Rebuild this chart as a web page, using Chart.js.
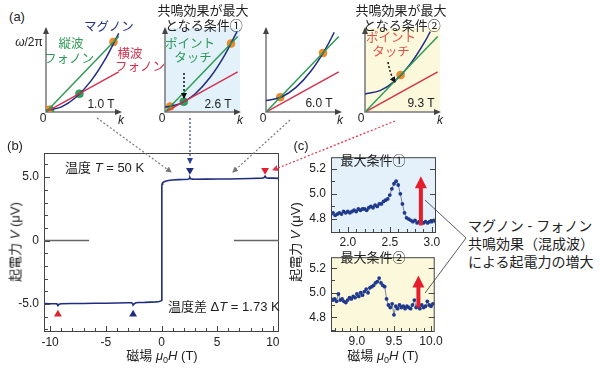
<!DOCTYPE html>
<html>
<head>
<meta charset="utf-8">
<script src="https://cdn.jsdelivr.net/npm/chart.js@4.4.0/dist/chart.umd.min.js"></script>
<style>
  body { margin: 0; width: 600px; height: 370px; background: #fff; position: relative; overflow: hidden;
         font-family: "Liberation Sans", "Noto Sans CJK JP", sans-serif; color: #222; }
  canvas { position: absolute; }
  .t { position: absolute; white-space: nowrap; line-height: 1; transform: translate(-50%, -50%); }
  .l { position: absolute; white-space: nowrap; line-height: 1; transform: translate(0, -50%); }
  svg { position: absolute; left: 0; top: 0; pointer-events: none; }
</style>
</head>
<body>
<canvas id="a0" width="100" height="100" style="left:26px;top:20px"></canvas>
<canvas id="a1" width="100" height="100" style="left:145px;top:20px"></canvas>
<canvas id="a2" width="100" height="100" style="left:246px;top:20px"></canvas>
<canvas id="a3" width="100" height="100" style="left:345px;top:20px"></canvas>
<canvas id="mainB" width="290" height="240" style="left:0;top:130px"></canvas>
<canvas id="zoom1" width="155" height="104" style="left:290px;top:145px"></canvas>
<canvas id="zoom2" width="155" height="125" style="left:290px;top:245px"></canvas>

<!-- panel (a) text -->
<div class="t" style="left:17px;top:16px;font-size:13px">(a)</div>
<div class="t" style="left:29px;top:42px;font-size:12px"><i>ω</i>/2π</div>
<div class="t" style="left:109px;top:27px;font-size:12.5px;color:#24338a">マグノン</div>
<div class="t" style="left:71px;top:44px;font-size:12.5px;color:#2f9a55">縦波</div>
<div class="t" style="left:69px;top:59px;font-size:12.5px;color:#2f9a55">フォノン</div>
<div class="t" style="left:130px;top:54px;font-size:12.5px;color:#d2304c">横波</div>
<div class="t" style="left:140px;top:67px;font-size:12.5px;color:#d2304c">フォノン</div>
<div class="t" style="left:203px;top:10px;font-size:13px">共鳴効果が最大</div>
<div class="t" style="left:204px;top:25px;font-size:13px">となる条件①</div>
<div class="t" style="left:190px;top:44px;font-size:12.5px;color:#2f9a55">ポイント</div>
<div class="t" style="left:193px;top:58px;font-size:12.5px;color:#2f9a55">タッチ</div>
<div class="t" style="left:401px;top:10px;font-size:13px">共鳴効果が最大</div>
<div class="t" style="left:402px;top:25px;font-size:13px">となる条件②</div>
<div class="t" style="left:391px;top:38px;font-size:12.5px;color:#e0504a">ポイント</div>
<div class="t" style="left:391px;top:52px;font-size:12.5px;color:#e0504a">タッチ</div>
<div class="t" style="left:101px;top:104px;font-size:12px">1.0 T</div>
<div class="t" style="left:218px;top:104px;font-size:12px">2.6 T</div>
<div class="t" style="left:319px;top:103px;font-size:12px">6.0 T</div>
<div class="t" style="left:421px;top:103px;font-size:12px">9.3 T</div>
<div class="t" style="left:43px;top:118px;font-size:12px">0</div>
<div class="t" style="left:162px;top:118px;font-size:12px">0</div>
<div class="t" style="left:263px;top:118px;font-size:12px">0</div>
<div class="t" style="left:361px;top:118px;font-size:12px">0</div>
<div class="t" style="left:121px;top:120px;font-size:12px"><i>k</i></div>
<div class="t" style="left:240px;top:120px;font-size:12px"><i>k</i></div>
<div class="t" style="left:340px;top:120px;font-size:12px"><i>k</i></div>
<div class="t" style="left:440px;top:120px;font-size:12px"><i>k</i></div>

<!-- panel (b) text -->
<div class="t" style="left:15px;top:145px;font-size:13px">(b)</div>
<div class="l" style="left:65px;top:167px;font-size:13px">温度 <i>T</i> = 50 K</div>
<div class="l" style="left:168px;top:306px;font-size:13px">温度差 Δ<i>T</i> = 1.73 K</div>
<div class="t" style="left:15px;top:242px;font-size:13px;transform:translate(-50%,-50%) rotate(-90deg)">起電力 <i>V</i> (μV)</div>
<div class="t" style="left:162px;top:357px;font-size:13px">磁場 <i>μ</i><sub style="font-size:9px">0</sub><i>H</i> (T)</div>

<!-- panel (c) text -->
<div class="t" style="left:301px;top:145px;font-size:13px">(c)</div>
<div class="t" style="left:373px;top:160px;font-size:13px">最大条件①</div>
<div class="t" style="left:373px;top:257px;font-size:13px">最大条件②</div>
<div class="t" style="left:295px;top:242px;font-size:13px;transform:translate(-50%,-50%) rotate(-90deg)">起電力 <i>V</i> (μV)</div>
<div class="t" style="left:383px;top:357px;font-size:13px">磁場 <i>μ</i><sub style="font-size:9px">0</sub><i>H</i> (T)</div>
<div class="l" style="left:468px;top:226px;font-size:14px">マグノン - フォノン</div>
<div class="l" style="left:468px;top:244px;font-size:14px">共鳴効果（混成波）</div>
<div class="l" style="left:468px;top:262px;font-size:14px">による起電力の増大</div>

<svg width="600" height="370">
  <defs>
    <marker id="hg" markerWidth="6" markerHeight="6" refX="5" refY="3" orient="auto" markerUnits="userSpaceOnUse">
      <path d="M0,0 L6,3 L0,6 z" fill="#777"/></marker>
    <marker id="hb" markerWidth="6" markerHeight="6" refX="5" refY="3" orient="auto" markerUnits="userSpaceOnUse">
      <path d="M0,0 L6,3 L0,6 z" fill="#2a3f9a"/></marker>
    <marker id="hr" markerWidth="6" markerHeight="6" refX="5" refY="3" orient="auto" markerUnits="userSpaceOnUse">
      <path d="M0,0 L6,3 L0,6 z" fill="#e03048"/></marker>
    <marker id="hk" markerWidth="6" markerHeight="6" refX="5" refY="3" orient="auto" markerUnits="userSpaceOnUse">
      <path d="M0,0 L6,3 L0,6 z" fill="#111"/></marker>
  </defs>
  <g fill="none" stroke-width="1.2" stroke-dasharray="2,2">
    <line x1="97" y1="118" x2="171" y2="172" stroke="#777" marker-end="url(#hg)"/>
    <line x1="190" y1="118" x2="190" y2="163" stroke="#2a3f9a" marker-end="url(#hb)"/>
    <line x1="290" y1="120" x2="233" y2="172" stroke="#777" marker-end="url(#hg)"/>
    <line x1="395" y1="121" x2="273" y2="170" stroke="#e03048" marker-end="url(#hr)"/>
    <line x1="184" y1="73" x2="184" y2="98" stroke="#111" stroke-width="1.5" marker-end="url(#hk)"/>
    <path d="M388,62 Q390,74 395,82" stroke="#111" stroke-width="1.5" marker-end="url(#hk)"/>
  </g>
  <polyline points="425,200 466,238 425,293" fill="none" stroke="#333" stroke-width="0.8"/>
</svg>

<script>
// ---- (a) dispersion sketches: k and omega/2pi in arbitrary units ----
const phononK = [0, 0.97];
const longW = [0, 0.92];
const transW = [0, 0.49];
const magnonK = [
  [0, 0.2, 0.4, 0.6, 0.8, 0.97],
  [0, 0.2, 0.4, 0.6, 0.8, 0.96],
  [0, 0.2, 0.4, 0.6, 0.8, 0.91],
  [0, 0.2, 0.4, 0.6, 0.8, 0.87],
];
const magnonW = [
  [0.02, 0.06, 0.18, 0.38, 0.66, 0.96],
  [0.06, 0.10, 0.22, 0.42, 0.70, 0.98],
  [0.14, 0.18, 0.30, 0.50, 0.78, 0.97],
  [0.22, 0.26, 0.38, 0.58, 0.86, 0.98],
];
const crossLK = [[0.025, 0.90], [0.07, 0.88], [0.19, 0.76], [0.475]];
const crossLW = [[0.024, 0.855], [0.067, 0.835], [0.18, 0.72], [0.45]];
const crossTK = [[0.054, 0.446], [0.25], [], []];
const crossTW = [[0.027, 0.223], [0.125], [], []];

// ---- (b) full field sweep ----
const fieldB = [-10.5, -10.0, -9.6, -9.4, -9.3, -9.2, -9.0, -8.0, -7.0, -6.0, -5.0, -4.0, -3.0, -2.7, -2.6,
  -2.55, -2.45, -2.3, -2.0, -1.5, -1.0, -0.5, -0.2, -0.05, 0.02, 0.03, 0.05, 0.1, 0.2, 0.35, 0.6, 1.0, 1.5,
  2.0, 2.4, 2.5, 2.55, 2.62, 2.75, 3.0, 4.0, 5.0, 6.0, 7.0, 8.0, 9.0, 9.2, 9.3, 9.4, 9.6, 10.0, 10.5];
const voltB = [-4.96, -4.98, -4.97, -4.98, -5.12, -5.02, -4.97, -4.95, -4.95, -4.93, -4.93, -4.92, -4.9, -4.9, -4.95,
  -5.08, -4.98, -4.9, -4.88, -4.87, -4.85, -4.83, -4.8, -4.75, -4.7, 4.3, 4.45, 4.55, 4.62, 4.68, 4.73, 4.77, 4.8,
  4.81, 4.83, 4.9, 4.98, 4.87, 4.84, 4.83, 4.84, 4.85, 4.85, 4.87, 4.89, 4.92, 4.95, 5.08, 4.95, 4.92, 4.92, 4.9];
const markH = [2.55, 9.3, -9.3, -2.55];
const markV = [5.55, 5.55, -5.8, -5.8];
const ticksBX = [-10, -5, 0, 5, 10];
const ticksBY = [-5, 0, 5];

// ---- (c) zoomed sweeps around the two resonance conditions ----
const field1 = [1.800, 1.825, 1.850, 1.875, 1.900, 1.925, 1.950, 1.975, 2.000, 2.025, 2.050, 2.075, 2.100, 2.125,
  2.150, 2.175, 2.200, 2.225, 2.250, 2.275, 2.300, 2.325, 2.350, 2.375, 2.400, 2.425, 2.450, 2.475, 2.500, 2.525,
  2.550, 2.575, 2.600, 2.625, 2.650, 2.675, 2.700, 2.725, 2.750, 2.775, 2.800, 2.825, 2.850, 2.875, 2.900, 2.925,
  2.950, 2.975, 3.000, 3.025, 3.050];
const volt1 = [4.84, 4.85, 4.83, 4.84, 4.85, 4.84, 4.86, 4.85, 4.86, 4.85, 4.86, 4.87, 4.86, 4.88,
  4.87, 4.88, 4.88, 4.87, 4.89, 4.90, 4.89, 4.91, 4.90, 4.92, 4.92, 4.94, 4.95, 4.96, 4.99, 5.04,
  5.08, 5.10, 5.07, 5.00, 4.92, 4.85, 4.81, 4.80, 4.79, 4.78, 4.79, 4.77, 4.78, 4.78, 4.77, 4.78,
  4.77, 4.78, 4.78, 4.79, 4.78];
const field2 = [8.650, 8.675, 8.700, 8.725, 8.750, 8.775, 8.800, 8.825, 8.850, 8.875, 8.900, 8.925, 8.950, 8.975,
  9.000, 9.025, 9.050, 9.075, 9.100, 9.125, 9.150, 9.175, 9.200, 9.225, 9.250, 9.275, 9.300, 9.325, 9.350, 9.375,
  9.400, 9.425, 9.450, 9.475, 9.500, 9.525, 9.550, 9.575, 9.600, 9.625, 9.650, 9.675, 9.700, 9.725, 9.750, 9.775,
  9.800, 9.825, 9.850, 9.875, 9.900, 9.925, 9.950, 9.975, 10.000, 10.025];
const volt2 = [4.95, 4.94, 4.95, 4.93, 4.99, 4.94, 4.95, 4.93, 4.92, 4.94, 4.96, 4.95, 4.97, 4.96,
  4.99, 4.97, 5.00, 4.98, 5.01, 5.03, 5.00, 5.04, 5.05, 5.06, 5.08, 5.09, 5.12, 5.08, 5.06, 5.05,
  4.95, 4.90, 4.88, 4.91, 4.82, 4.89, 4.87, 4.90, 4.88, 4.89, 4.87, 4.89, 4.88, 4.87, 4.90, 4.94,
  4.88, 4.89, 4.87, 4.90, 4.88, 4.89, 4.93, 4.90, 4.89, 4.91];
const peak1 = {h: 2.58, v: 5.15};
const peak2 = {h: 9.29, v: 5.18};
const rise1 = {h: 2.87, from: 4.75, to: 5.14};
const rise2 = {h: 9.83, from: 4.88, to: 5.14};
const ticksC1X = [2.0, 2.5, 3.0];
const ticksC2X = [9.0, 9.5, 10.0];
const ticksCY = [4.8, 5.0, 5.2];

const NAVY = "#1f2d80";
const GREEN = "#2f9a55";
const RED = "#d2304c";
const ORANGE = "#f08a2a";

Chart.defaults.font.family = '"Liberation Sans", Arial, sans-serif';
Chart.defaults.font.size = 12;
Chart.defaults.color = "#222";

const xy = (xs, ys) => xs.map((x, i) => ({x: x, y: ys[i]}));

// axes with arrow heads for the sketches
const arrowAxes = {
  id: "arrowAxes",
  beforeDatasetsDraw(chart, args, opts) {
    const {ctx, chartArea: a} = chart;
    ctx.save();
    if (opts.bg) {
      ctx.fillStyle = opts.bg;
      ctx.fillRect(a.left, a.top - 2, a.right - a.left, a.bottom - a.top + 2);
    }
    ctx.strokeStyle = "#777";
    ctx.lineWidth = 1.5;
    ctx.beginPath();
    ctx.moveTo(a.left, a.top);
    ctx.lineTo(a.left, a.bottom);
    ctx.lineTo(a.right - 2, a.bottom);
    ctx.stroke();
    ctx.fillStyle = "#444";
    ctx.beginPath();
    ctx.moveTo(a.left, a.top - 3);
    ctx.lineTo(a.left - 3, a.top + 4);
    ctx.lineTo(a.left + 3, a.top + 4);
    ctx.fill();
    ctx.beginPath();
    ctx.moveTo(a.right + 1, a.bottom);
    ctx.lineTo(a.right - 6, a.bottom - 3);
    ctx.lineTo(a.right - 6, a.bottom + 3);
    ctx.fill();
    ctx.restore();
  }
};

// frame, inner ticks, background and red arrows for the data panels
const frameTicks = {
  id: "frameTicks",
  beforeDatasetsDraw(chart, args, o) {
    const {ctx, chartArea: a} = chart;
    if (o.bg) {
      ctx.save();
      ctx.fillStyle = o.bg;
      ctx.fillRect(a.left, a.top, a.right - a.left, a.bottom - a.top);
      ctx.restore();
    }
  },
  afterDatasetsDraw(chart, args, o) {
    const {ctx, chartArea: a, scales: {x, y}} = chart;
    ctx.save();
    ctx.strokeStyle = "#444";
    ctx.lineWidth = 1;
    ctx.beginPath();
    const steps = (s, step) => {
      const out = [];
      for (let n = Math.ceil(s.min / step - 1e-6); n * step <= s.max + 1e-9; n++) out.push(n * step);
      return out;
    };
    const isMajor = (v, m) => Math.abs(v / m - Math.round(v / m)) < 1e-6;
    steps(x, o.xStep).forEach(v => {
      const px = Math.round(x.getPixelForValue(v)) + 0.5;
      const len = isMajor(v, o.xMajor) ? 6 : 4;
      ctx.moveTo(px, a.bottom); ctx.lineTo(px, a.bottom - len);
    });
    steps(y, o.yStep).forEach(v => {
      const py = Math.round(y.getPixelForValue(v)) + 0.5;
      const len = isMajor(v, o.yMajor) ? 6 : 4;
      ctx.moveTo(a.left, py); ctx.lineTo(a.left + len, py);
      if (o.right && isMajor(v, o.yMajor)) { ctx.moveTo(a.right, py); ctx.lineTo(a.right - len, py); }
    });
    ctx.stroke();
    ctx.strokeRect(a.left + 0.5, a.top + 0.5, a.right - a.left - 1, a.bottom - a.top - 1);
    if (o.zeroGap) {
      const py = y.getPixelForValue(0);
      ctx.strokeStyle = "#666";
      ctx.lineWidth = 1.5;
      ctx.beginPath();
      ctx.moveTo(a.left, py); ctx.lineTo(x.getPixelForValue(-o.zeroGap), py);
      ctx.moveTo(x.getPixelForValue(o.zeroGap), py); ctx.lineTo(a.right, py);
      ctx.stroke();
    }
    if (o.rise) {
      const px = x.getPixelForValue(o.rise.h);
      const p0 = y.getPixelForValue(o.rise.from);
      const p1 = y.getPixelForValue(o.rise.to);
      ctx.fillStyle = "#e41e2a";
      ctx.fillRect(px - 2, p1 + 10, 4, p0 - p1 - 10);
      ctx.beginPath();
      ctx.moveTo(px, p1); ctx.lineTo(px - 6, p1 + 12); ctx.lineTo(px + 6, p1 + 12);
      ctx.fill();
    }
    ctx.restore();
  }
};

function sketch(i, bg) {
  return new Chart(document.getElementById("a" + i), {
    type: "scatter",
    data: {
      datasets: [
        {data: xy(phononK, longW), showLine: true, borderColor: GREEN, borderWidth: 1.5, pointRadius: 0},
        {data: xy(phononK, transW), showLine: true, borderColor: RED, borderWidth: 1.5, pointRadius: 0},
        {data: xy(magnonK[i], magnonW[i]), showLine: true, borderColor: NAVY, borderWidth: 1.5, pointRadius: 0,
         cubicInterpolationMode: "monotone"},
        {data: xy(crossLK[i], crossLW[i]), pointRadius: 4, backgroundColor: ORANGE, borderColor: "#e07a1a", borderWidth: 0.5},
        {data: xy(crossTK[i], crossTW[i]), pointRadius: 4, backgroundColor: "#2aa05a", borderColor: "#1e8a4a", borderWidth: 0.5},
      ]
    },
    options: {
      responsive: false, animation: false, events: [],
      layout: {padding: {left: 20, top: 10, right: 5, bottom: 8}},
      plugins: {legend: {display: false}, tooltip: {enabled: false}, arrowAxes: {bg: bg}},
      scales: {x: {display: false, min: 0, max: 1}, y: {display: false, min: 0, max: 1}}
    },
    plugins: [arrowAxes]
  });
}
sketch(0, null);
sketch(1, "#e2f1fa");
sketch(2, null);
sketch(3, "#fcf8dc");

function axisOpts(min, max, tickVals, fmt, fitW, fitH, pad) {
  return {
    type: "linear", min: min, max: max,
    grid: {display: false, drawTicks: false}, border: {display: false},
    ticks: {autoSkip: false, maxRotation: 0, padding: pad, callback: fmt, font: {size: 12}, color: "#222"},
    afterBuildTicks: s => { s.ticks = tickVals.map(v => ({value: v})); },
    afterFit: s => { if (fitW) s.width = fitW; if (fitH) s.height = fitH; }
  };
}
const fixed1 = v => (v === 0 ? "0" : v.toFixed(1));

new Chart(document.getElementById("mainB"), {
  type: "scatter",
  data: {
    datasets: [
      {data: xy(fieldB, voltB), showLine: true, borderColor: NAVY, borderWidth: 1.6, pointRadius: 0},
      {data: xy(markH, markV), pointStyle: "triangle", pointRadius: 4.5, rotation: [180, 180, 0, 0],
       backgroundColor: [NAVY, "#e02030", "#e02030", NAVY], borderWidth: 0}
    ]
  },
  options: {
    responsive: false, animation: false, events: [],
    layout: {padding: {left: 0, top: 23, right: 11, bottom: 0}},
    plugins: {legend: {display: false}, tooltip: {enabled: false},
      frameTicks: {xStep: 1, xMajor: 5, yStep: 1, yMajor: 5, zeroGap: 6.5}},
    scales: {
      x: axisOpts(-10.55, 10.55, ticksBX, v => String(v), 0, 38, 3),
      y: axisOpts(-7.2, 6.9, ticksBY, fixed1, 44, 0, 5)
    }
  },
  plugins: [frameTicks]
});

function zoomChart(id, fs, vs, peak, color, xmin, xmax, ymin, ymax, xTicks, fitH, bg, rise) {
  return new Chart(document.getElementById(id), {
    type: "scatter",
    data: {
      datasets: [
        {data: xy(fs, vs), showLine: true, borderColor: "#5a6488", borderWidth: 0.8, pointRadius: 1.9,
         pointBackgroundColor: "#1f3a8c", pointBorderWidth: 0},
        {data: [peak], pointStyle: "triangle", pointRadius: 4.5, rotation: 180, backgroundColor: color, borderWidth: 0}
      ]
    },
    options: {
      responsive: false, animation: false, events: [],
      layout: {padding: {left: 0, top: 8, right: 9, bottom: 0}},
      plugins: {legend: {display: false}, tooltip: {enabled: false},
        frameTicks: {xStep: 0.1, xMajor: 0.5, yStep: 0.1, yMajor: 0.2, right: true, bg: bg, rise: rise}},
      scales: {
        x: axisOpts(xmin, xmax, xTicks, v => v.toFixed(1), 0, fitH, 2),
        y: axisOpts(ymin, ymax, ticksCY, v => v.toFixed(1), 41, 0, 5)
      }
    },
    plugins: [frameTicks]
  });
}
zoomChart("zoom1", field1, volt1, peak1, NAVY, 1.8, 3.05, 4.69, 5.29, ticksC1X, 16, "#e4f1fa", rise1);
zoomChart("zoom2", field2, volt2, peak2, "#e02030", 8.65, 10.05, 4.68, 5.29, ticksC2X, 38, "#fcf8dc", rise2);
</script>
</body>
</html>
